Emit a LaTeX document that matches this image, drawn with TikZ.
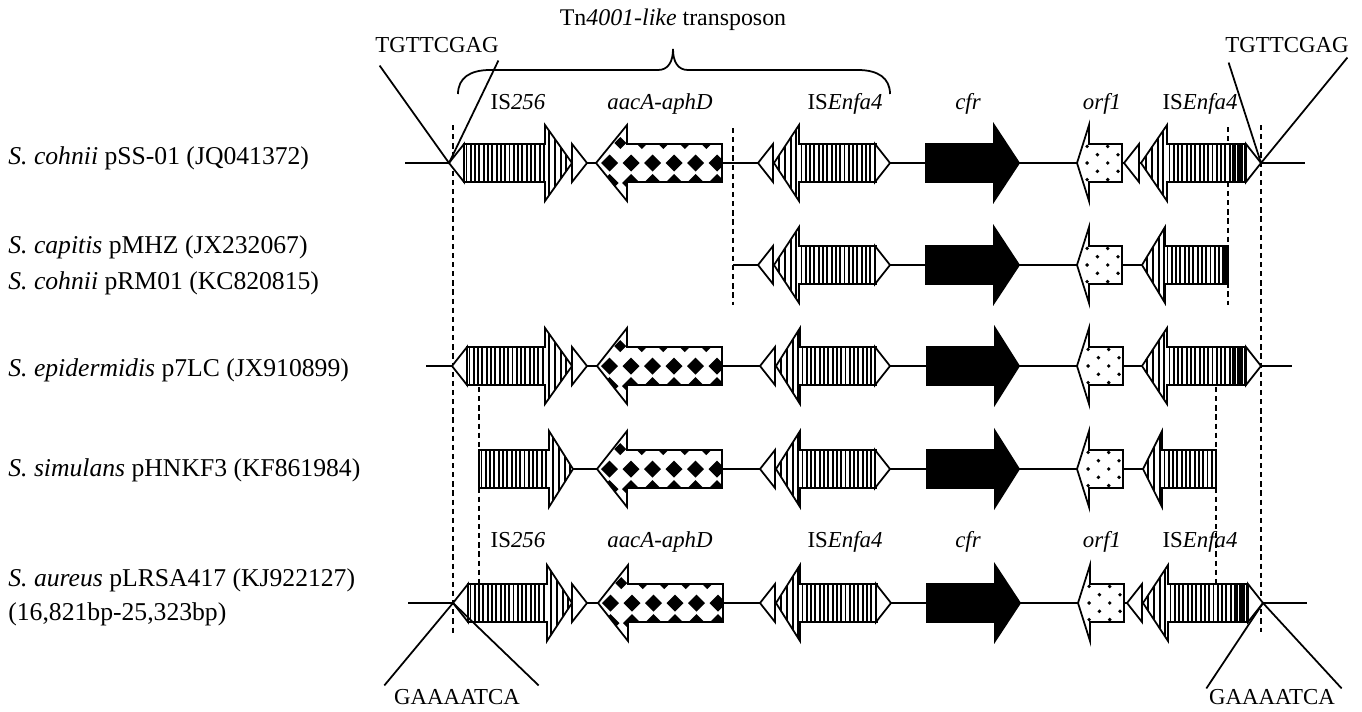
\documentclass[tikz,border=0pt]{standalone}
\usepackage{fontspec}
\setmainfont{Liberation Serif}
\usetikzlibrary{calc}

\tikzset{
  gene/.style={draw, line width=1pt, line join=miter, fill=white},
  stripe/.style={line width=1.05pt},
  backbone/.style={line width=1pt},
  guide/.style={dashed, dash pattern=on 3pt off 2.2pt, line width=0.8pt},
  rowlab/.style={anchor=base west, inner sep=0pt, font=\fontsize{14.6}{17}\selectfont},
  genelab/.style={anchor=base, inner sep=0pt, font=\fontsize{13}{15}\selectfont},
  seqlab/.style={inner sep=2pt, font=\fontsize{13}{15}\selectfont}
}

% vertical stripes from x #1 to x #2, spacing #3, row y #4
\newcommand{\stripes}[4]{%
  \pgfmathtruncatemacro{\nstripe}{max(0,(#2-(#1))/(#3))}%
  \foreach \k in {0,...,\nstripe}{\draw[stripe] ({#1+#3*\k},{#4-40}) -- ({#1+#3*\k},{#4+40});}}
\newcommand{\blob}[3]{\fill[black] ({#1-#3},{#2}) -- ({#1},{#2-#3}) -- ({#1+#3},{#2}) -- ({#1},{#2+#3}) -- cycle;}

% inverted repeats
\newcommand{\irL}[2]{\draw[gene] (#1,#2) -- ({#1+15},{#2-19}) -- ({#1+15},{#2+19}) -- cycle;}
\newcommand{\irR}[2]{\draw[gene] (#1,#2) -- ({#1-15},{#2-19}) -- ({#1-15},{#2+19}) -- cycle;}

% genes: right ones (start, head, tip, y), left ones (tip, head, end, y)
\newcommand{\isR}[4]{%
  \draw[gene, path picture={\stripes{#1+2.5}{#2}{4.3}{#4}\stripes{#2+4}{#3}{5.8}{#4}}]
    (#1,{#4-19}) -- (#2,{#4-19}) -- (#2,{#4-38}) -- (#3,#4) -- (#2,{#4+38}) -- (#2,{#4+19}) -- (#1,{#4+19}) -- cycle;}
\newcommand{\cfrR}[4]{%
  \draw[gene, fill=black]
    (#1,{#4-19}) -- (#2,{#4-19}) -- (#2,{#4-38}) -- (#3,#4) -- (#2,{#4+38}) -- (#2,{#4+19}) -- (#1,{#4+19}) -- cycle;}
\newcommand{\isL}[5]{%
  \draw[gene, path picture={\stripes{#1+5}{#2}{5.8}{#4}\stripes{#2+2.5}{#5}{4.3}{#4}\stripes{#5}{#3}{2.3}{#4}}]
    (#1,#4) -- (#2,{#4-38}) -- (#2,{#4-19}) -- (#3,{#4-19}) -- (#3,{#4+19}) -- (#2,{#4+19}) -- (#2,{#4+38}) -- cycle;}
\newcommand{\aacL}[4]{%
  \draw[gene, path picture={%
      \foreach \k in {0,...,5}{%
        \blob{#3-5-21.5*\k}{#4}{8.5}%
        \blob{#3-5-21.5*\k}{#4+20}{9}%
        \blob{#3-15.75-21.5*\k}{#4-20}{6}}}]
    (#1,#4) -- (#2,{#4-38}) -- (#2,{#4-19}) -- (#3,{#4-19}) -- (#3,{#4+19}) -- (#2,{#4+19}) -- (#2,{#4+38}) -- cycle;}
\newcommand{\orfL}[4]{%
  \draw[gene, path picture={%
      \foreach \m in {0,...,4}{\foreach \j in {-3,...,3}{%
        \pgfmathtruncatemacro{\dotodd}{mod(\m+\j+20,2)}%
        \ifnum\dotodd=1 \fill[black] ({#3-4-10.3*\m},{#4+8.3*\j}) circle (1.1pt);\fi}}}]
    (#1,#4) -- (#2,{#4-38}) -- (#2,{#4-19}) -- (#3,{#4-19}) -- (#3,{#4+19}) -- (#2,{#4+19}) -- (#2,{#4+38}) -- cycle;}

\begin{document}
\begin{tikzpicture}[x=0.02cm,y=-0.02cm]
  \useasboundingbox (0,0) rectangle (1362,711);

  % strain labels
  \node[rowlab] (s1) at (8,164) {\textit{S. cohnii} pSS-01 (JQ041372)};
  \node[rowlab] (s2a) at (8,253) {\textit{S. capitis} pMHZ (JX232067)};
  \node[rowlab] (s2b) at (8,289) {\textit{S. cohnii} pRM01 (KC820815)};
  \node[rowlab] (s3) at (8,376) {\textit{S. epidermidis} p7LC (JX910899)};
  \node[rowlab] (s4) at (8,476) {\textit{S. simulans} pHNKF3 (KF861984)};
  \node[rowlab] (s5) at (8,586) {\textit{S. aureus} pLRSA417 (KJ922127)};
  \node[rowlab] (s5b) at (8,620) {(16,821bp-25,323bp)};

  % backbones
  \draw[backbone] (405,163) -- (1305,163);
  \draw[backbone] (733,265) -- (1228,265);
  \draw[backbone] (426,366) -- (1292,366);
  \draw[backbone] (479,469) -- (1216,469);
  \draw[backbone] (408,603) -- (1307,603);

  % dashed boundaries
  \draw[guide] (453,125) -- (453,636);
  \draw[guide] (733,128) -- (733,305);
  \draw[guide] (1228,127) -- (1228,305);
  \draw[guide] (1261,125) -- (1261,632);
  \draw[guide] (479,387) -- (479,583);
  \draw[guide] (1216,387) -- (1216,585);

  % row 1
  \irL{449}{163}
  \isR{464}{545}{572}{163}
  \irR{587}{163}
  \aacL{596}{627}{722}{163}
  \irL{758}{163}
  \isL{774}{799}{876}{163}{876}
  \irR{890}{163}
  \cfrR{926}{994}{1019}{163}
  \orfL{1077}{1089}{1122}{163}
  \irL{1124}{163}
  \isL{1141}{1167}{1245}{163}{1233}
  \irR{1261}{163}

  % row 2
  \irL{758}{265}
  \isL{774}{799}{876}{265}{876}
  \irR{890}{265}
  \cfrR{926}{994}{1019}{265}
  \orfL{1077}{1089}{1122}{265}
  \isL{1142}{1165}{1228}{265}{1224}

  % row 3
  \irL{452}{366}
  \isR{467}{545}{572}{366}
  \irR{587}{366}
  \aacL{597}{627}{722}{366}
  \irL{760}{366}
  \isL{776}{800}{876}{366}{876}
  \irR{890}{366}
  \cfrR{927}{995}{1019}{366}
  \orfL{1077}{1089}{1123}{366}
  \isL{1142}{1167}{1245}{366}{1233}
  \irR{1261}{366}

  % row 4
  \isR{479}{549}{573}{469}
  \aacL{597}{627}{722}{469}
  \irL{760}{469}
  \isL{776}{800}{876}{469}{876}
  \irR{890}{469}
  \cfrR{927}{995}{1019}{469}
  \orfL{1077}{1089}{1123}{469}
  \isL{1143}{1162}{1216}{469}{1216}

  % row 5
  \irL{453}{603}
  \isR{468}{547}{572}{603}
  \irR{587}{603}
  \aacL{598}{628}{723}{603}
  \irL{760}{603}
  \isL{776}{800}{877}{603}{877}
  \irR{891}{603}
  \cfrR{927}{995}{1020}{603}
  \orfL{1078}{1090}{1124}{603}
  \irL{1127}{603}
  \isL{1143}{1168}{1247}{603}{1235}
  \irR{1263}{603}

  % gene names
  \foreach \y/\r in {109/t, 547/b}{
    \node[genelab] (is256\r) at (518,\y) {IS\textit{256}};
    \node[genelab] (aac\r) at (660,\y) {\textit{aacA-aphD}};
    \node[genelab] (enfa\r) at (845,\y) {IS\textit{Enfa4}};
    \node[genelab] (cfr\r) at (968,\y) {\textit{cfr}};
    \node[genelab] (orf\r) at (1102,\y) {\textit{orf1}};
    \node[genelab] (enfb\r) at (1200,\y) {IS\textit{Enfa4}};
  }

  % transposon brace
  \node[genelab, anchor=center, font=\fontsize{13.6}{16}\selectfont] (tn) at (673,20) {Tn\textit{4001-like} transposon};
  \draw[backbone] (458,94) .. controls (458,78) and (470,70) .. (490,70) -- (658,70)
    .. controls (668,70) and (673,62) .. (673,49) .. controls (673,62) and (678,70) .. (688,70)
    -- (858,70) .. controls (878,70) and (890,78) .. (890,94);

  % target site duplications
  \node[seqlab] (tl) at (437,45) {TGTTCGAG};
  \node[seqlab] (tr) at (1287,45) {TGTTCGAG};
  \node[seqlab] (bl) at (457,697) {GAAAATCA};
  \node[seqlab] (br) at (1272,697) {GAAAATCA};
  \coordinate (jtl) at (449,163);
  \coordinate (jtr) at (1261,163);
  \coordinate (jbl) at (453,603);
  \coordinate (jbr) at (1263,603);
  \draw[backbone] ($(tl.south west)+(8,9)$) -- (jtl) -- ($(tl.south east)+(-4,4)$);
  \draw[backbone] ($(tr.south west)+(7,6)$) -- (jtr) -- ($(tr.south east)+(-5,1)$);
  \draw[backbone] ($(bl.north west)+(-6,0)$) -- (jbl) -- ($(bl.north east)+(15,0)$);
  \draw[backbone] ($(br.north west)+(1,3)$) -- (jbr) -- ($(br.north east)+(3,3)$);
\end{tikzpicture}
\end{document}
